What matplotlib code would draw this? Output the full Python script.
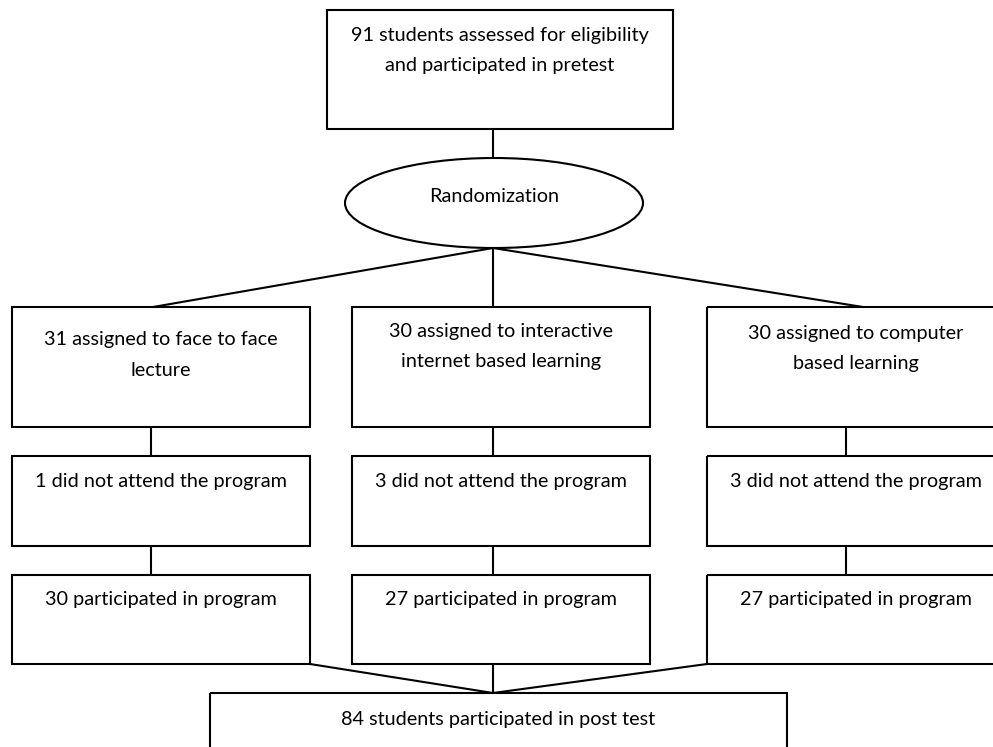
import matplotlib.pyplot as plt
from matplotlib.patches import Rectangle, Ellipse

# Box texts (each entry: list of lines)
top_text = ["91 students assessed for eligibility", "and participated in pretest"]
ellipse_text = "Randomization"
assigned_text = [["31 assigned to face to face", "lecture"],
                 ["30 assigned to interactive", "internet based learning"],
                 ["30 assigned to computer", "based learning"]]
dropped_text = ["1 did not attend the program",
                "3 did not attend the program",
                "3 did not attend the program"]
participated_text = ["30 participated in program",
                     "27 participated in program",
                     "27 participated in program"]
bottom_text = "84 students participated in post test"

# Layout in pixel coordinates (y grows downward)
col_left = [12, 352, 707]
col_width = 298
col_line = [151, 493, 846]
row1 = (307, 427)
row2 = (456, 546)
row3 = (575, 664)
lw = 1.5
fs = 14.3
font = "Lato"

fig = plt.figure(figsize=(9.93, 7.47), dpi=100)
ax = fig.add_axes([0, 0, 1, 1])
ax.set_xlim(0, 993)
ax.set_ylim(747, 0)
ax.axis("off")


def box(x0, y0, x1, y1):
    ax.add_patch(Rectangle((x0, y0), x1 - x0, y1 - y0, fill=False,
                           edgecolor="black", linewidth=lw))


def lines(cx, y0, texts, step=30):
    for i, t in enumerate(texts):
        ax.text(cx, y0 + i * step, t, ha="center", va="center",
                fontsize=fs, family=font, color="black")


def seg(x0, y0, x1, y1):
    ax.plot([x0, x1], [y0, y1], color="black", linewidth=lw,
            solid_capstyle="butt")


# top box and ellipse
box(327, 10, 673, 129)
lines(500, 35, top_text)
seg(493, 129, 493, 158)
ax.add_patch(Ellipse((494, 203), 298, 90, fill=False, edgecolor="black",
                     linewidth=lw))
lines(494, 197, [ellipse_text])

# branches
for x in [153, 493, 863]:
    seg(493, 248, x, 307)

first_line_y = [340, 332, 333]
for i in range(3):
    x0 = col_left[i]
    cx = x0 + col_width / 2
    box(x0, row1[0], x0 + col_width, row1[1])
    lines(cx, first_line_y[i], assigned_text[i])
    seg(col_line[i], row1[1], col_line[i], row2[0])
    box(x0, row2[0], x0 + col_width, row2[1])
    lines(cx, 482, [dropped_text[i]])
    seg(col_line[i], row2[1], col_line[i], row3[0])
    box(x0, row3[0], x0 + col_width, row3[1])
    lines(cx, 600, [participated_text[i]])

# merge to final box
for x in [310, 493, 707]:
    seg(x, 664, 493, 693)
box(210, 693, 787, 760)
lines(498, 719, [bottom_text])

fig.savefig("out.png", dpi=100)
